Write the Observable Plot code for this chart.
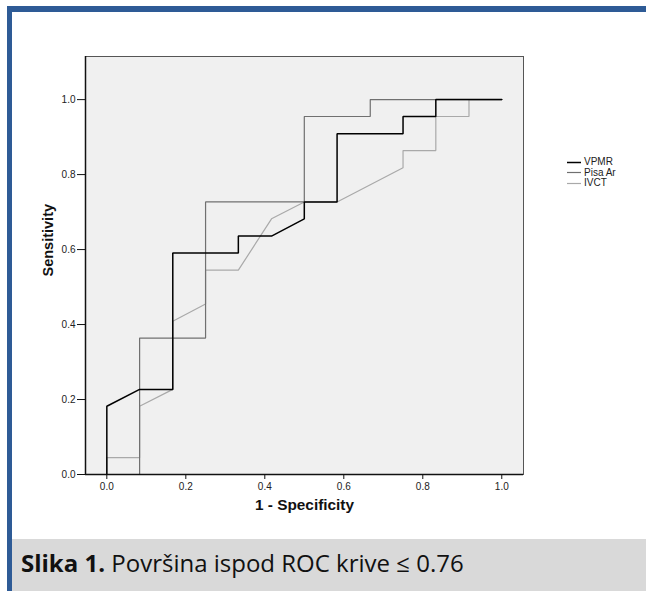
<!DOCTYPE html>
<html>
<head>
<meta charset="utf-8">
<script src="https://cdn.jsdelivr.net/npm/d3@7"></script>
<script src="https://cdn.jsdelivr.net/npm/@observablehq/plot@0.6"></script>
<style>
  html, body { margin: 0; padding: 0; background: #fff; }
  #wrap { position: relative; width: 646px; height: 591px; overflow: hidden; background: #fff; }
  #chart { position: absolute; left: 0; top: 0; }
  .bar { position: absolute; background: #2e5b96; }
  #caption { position: absolute; left: 12px; top: 539px; width: 634px; height: 52px; background: #d9d9d9; }
  #captext { position: absolute; left: 9px; top: 7px; font-family: "Open Sans", "Lato", sans-serif; font-size: 24px; color: #111; white-space: nowrap; }
  #legend { position: absolute; left: 567px; top: 157px; font-family: "Liberation Sans", Arial, sans-serif; font-size: 10px; color: #222; }
  .row { height: 10.5px; display: flex; align-items: center; }
  .row span { line-height: 10px; }
  .row svg { margin-right: 3px; }
</style>
</head>
<body>
<div id="wrap">
  <div id="chart"></div>
  <div class="bar" style="left:7px; top:6px; width:639px; height:6px;"></div>
  <div class="bar" style="left:7px; top:6px; width:5px; height:585px;"></div>
  <div id="legend"></div>
  <div id="caption"><div id="captext"><b>Slika 1.</b> Površina ispod ROC krive ≤ 0.76</div></div>
</div>
<script>
// Series names and colours
const seriesNames = ["VPMR", "Pisa Ar", "IVCT"];
const seriesColors = ["#000000", "#707070", "#a9a9a9"];

// ROC curve points (1 - Specificity, Sensitivity)
const vpmrX = [0, 0, 0.083, 0.167, 0.167, 0.333, 0.333, 0.417, 0.5, 0.5, 0.583, 0.583, 0.75, 0.75, 0.833, 0.833, 1];
const vpmrY = [0, 0.182, 0.227, 0.227, 0.591, 0.591, 0.636, 0.636, 0.682, 0.727, 0.727, 0.909, 0.909, 0.955, 0.955, 1, 1];

const pisaX = [0, 0.083, 0.083, 0.25, 0.25, 0.5, 0.5, 0.667, 0.667, 1];
const pisaY = [0, 0, 0.364, 0.364, 0.727, 0.727, 0.955, 0.955, 1, 1];

const ivctX = [0, 0, 0.083, 0.083, 0.167, 0.167, 0.25, 0.25, 0.333, 0.417, 0.5, 0.583, 0.75, 0.75, 0.833, 0.833, 0.917, 0.917, 1];
const ivctY = [0, 0.045, 0.045, 0.182, 0.227, 0.409, 0.455, 0.545, 0.545, 0.682, 0.727, 0.727, 0.818, 0.864, 0.864, 0.955, 0.955, 1, 1];

// Axis ticks
const xTicks = [0, 0.2, 0.4, 0.6, 0.8, 1.0];
const yTicks = [0, 0.2, 0.4, 0.6, 0.8, 1.0];
const xDomain = [-0.054, 1.055];
const yDomain = [0, 1.115];

const toRows = (name, xs, ys) => xs.map((x, i) => ({series: name, x, y: ys[i]}));
const data = [
  ...toRows("IVCT", ivctX, ivctY),
  ...toRows("Pisa Ar", pisaX, pisaY),
  ...toRows("VPMR", vpmrX, vpmrY)
];

const chart = Plot.plot({
  width: 646,
  height: 539,
  marginLeft: 85,
  marginRight: 123,
  marginTop: 56,
  marginBottom: 65,
  style: {fontFamily: "'Liberation Sans', Arial, sans-serif", fontSize: "10px", color: "#222", background: "#fff"},
  x: {domain: xDomain, ticks: xTicks, tickFormat: d3.format(".1f")},
  y: {domain: yDomain, ticks: yTicks, tickFormat: d3.format(".1f")},
  color: {domain: seriesNames, range: seriesColors},
  marks: [
    Plot.frame({fill: "#f0f0f0", stroke: "#555", strokeWidth: 1}),
    Plot.line(data, {x: "x", y: "y", z: "series", stroke: "series", strokeWidth: 1.2, strokeLinejoin: "miter"}),
    Plot.ruleY([yDomain[0]], {stroke: "#111", strokeWidth: 1.5}),
    Plot.ruleX([xDomain[0]], {stroke: "#111", strokeWidth: 1.5}),
    Plot.axisX({ticks: xTicks, tickFormat: d3.format(".1f"), tickSize: 5, tickPadding: 3, label: null, stroke: "#111"}),
    Plot.axisY({ticks: yTicks, tickFormat: d3.format(".1f"), tickSize: 8, tickPadding: 2, label: null, stroke: "#111"}),
    Plot.text(["1 - Specificity"], {frameAnchor: "bottom", dy: 35, fontWeight: "bold", fontSize: 15, fill: "#111"}),
    Plot.text(["Sensitivity"], {frameAnchor: "left", dx: -37, dy: 11, rotate: -90, fontWeight: "bold", fontSize: 14.5, fill: "#111"})
  ]
});
document.getElementById("chart").appendChild(chart);

// stretch x label to match reference width
chart.querySelectorAll("text").forEach(t => {
  if (t.textContent === "1 - Specificity") {
    t.setAttribute("textLength", "99");
    t.setAttribute("lengthAdjust", "spacingAndGlyphs");
  }
});
// thicker VPMR line
chart.querySelectorAll("path").forEach(p => {
  if (p.getAttribute("stroke") === "#000000") p.setAttribute("stroke-width", "1.5");
});

// Legend
const legend = document.getElementById("legend");
seriesNames.forEach((name, i) => {
  const row = document.createElement("div");
  row.className = "row";
  row.innerHTML = `<svg width="14" height="3"><line x1="0" x2="14" y1="1.5" y2="1.5" stroke="${seriesColors[i]}" stroke-width="${i === 0 ? 1.5 : 1.2}"/></svg><span>${name}</span>`;
  legend.appendChild(row);
});
</script>
</body>
</html>
